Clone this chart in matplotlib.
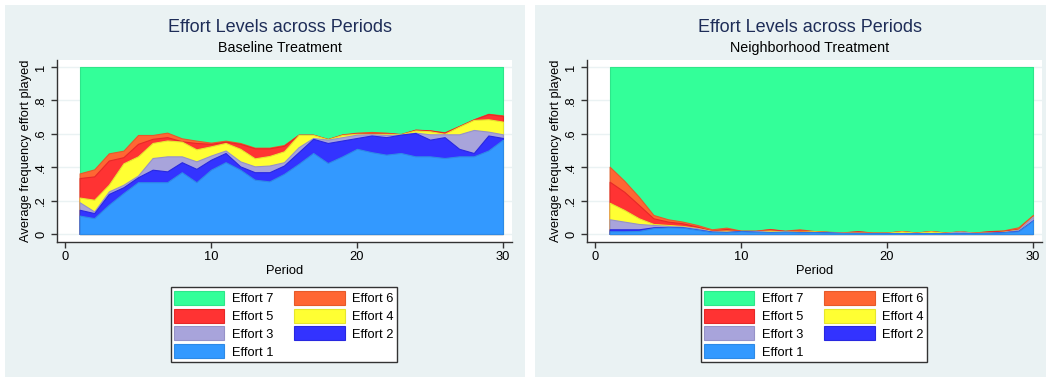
import matplotlib
matplotlib.use('Agg')
import matplotlib.pyplot as plt
import matplotlib.patches as mpatches
import numpy as np

plt.rcParams['font.family'] = ['Liberation Sans', 'DejaVu Sans']

periods = np.arange(1, 31)

# cumulative share of efforts 1..k (effort 7 fills up to 1)
base_cum1 = [0.11, 0.095, 0.175, 0.245, 0.31, 0.31, 0.31, 0.37, 0.31, 0.385, 0.43, 0.385, 0.325, 0.315, 0.36,
             0.42, 0.485, 0.425, 0.465, 0.51, 0.49, 0.475, 0.485, 0.465, 0.465, 0.455, 0.465, 0.465, 0.50, 0.565]
base_cum2 = [0.145, 0.125, 0.24, 0.28, 0.34, 0.385, 0.375, 0.43, 0.39, 0.445, 0.485, 0.405, 0.37, 0.37, 0.41,
             0.49, 0.57, 0.545, 0.56, 0.575, 0.59, 0.58, 0.595, 0.605, 0.565, 0.58, 0.51, 0.485, 0.59, 0.575]
base_cum3 = [0.19, 0.135, 0.255, 0.295, 0.35, 0.455, 0.465, 0.465, 0.435, 0.47, 0.50, 0.435, 0.405, 0.41, 0.43,
             0.52, 0.575, 0.565, 0.58, 0.595, 0.597, 0.593, 0.595, 0.607, 0.597, 0.597, 0.597, 0.623, 0.613, 0.597]
base_cum4 = [0.218, 0.205, 0.295, 0.423, 0.465, 0.545, 0.56, 0.553, 0.507, 0.525, 0.545, 0.51, 0.453, 0.467, 0.495,
             0.593, 0.593, 0.567, 0.593, 0.60, 0.60, 0.60, 0.597, 0.62, 0.615, 0.60, 0.643, 0.683, 0.687, 0.673]
base_cum5 = [0.335, 0.345, 0.44, 0.46, 0.54, 0.57, 0.58, 0.555, 0.545, 0.54, 0.553, 0.54, 0.513, 0.513, 0.528,
             0.594, 0.594, 0.568, 0.595, 0.603, 0.605, 0.604, 0.597, 0.624, 0.62, 0.607, 0.646, 0.686, 0.718, 0.707]
base_cum6 = [0.363, 0.387, 0.483, 0.499, 0.593, 0.593, 0.607, 0.573, 0.559, 0.547, 0.559, 0.545, 0.517, 0.517, 0.533,
             0.595, 0.595, 0.569, 0.597, 0.607, 0.611, 0.607, 0.599, 0.625, 0.621, 0.609, 0.647, 0.687, 0.72, 0.71]

neigh_cum1 = [0.016, 0.016, 0.018, 0.035, 0.04, 0.038, 0.025, 0.012, 0.01, 0.016, 0.012, 0.01, 0.012, 0.01, 0.01,
              0.008, 0.005, 0.005, 0.004, 0.004, 0.004, 0.004, 0.004, 0.004, 0.004, 0.004, 0.006, 0.01, 0.016, 0.08]
neigh_cum2 = [0.028, 0.028, 0.028, 0.04, 0.042, 0.04, 0.027, 0.014, 0.012, 0.017, 0.013, 0.011, 0.013, 0.011, 0.011,
              0.009, 0.006, 0.006, 0.005, 0.005, 0.005, 0.005, 0.005, 0.005, 0.005, 0.005, 0.007, 0.011, 0.018, 0.082]
neigh_cum3 = [0.088, 0.074, 0.06, 0.054, 0.048, 0.044, 0.034, 0.016, 0.014, 0.018, 0.018, 0.013, 0.015, 0.012, 0.012,
              0.01, 0.007, 0.007, 0.006, 0.006, 0.006, 0.006, 0.006, 0.006, 0.014, 0.006, 0.008, 0.013, 0.025, 0.104]
neigh_cum4 = [0.187, 0.144, 0.094, 0.06, 0.054, 0.048, 0.036, 0.018, 0.02, 0.018, 0.018, 0.02, 0.016, 0.014, 0.016,
              0.011, 0.008, 0.008, 0.007, 0.007, 0.016, 0.007, 0.016, 0.007, 0.014, 0.007, 0.009, 0.014, 0.026, 0.105]
neigh_cum5 = [0.313, 0.253, 0.174, 0.094, 0.074, 0.064, 0.044, 0.02, 0.03, 0.019, 0.019, 0.028, 0.018, 0.02, 0.017,
              0.012, 0.009, 0.016, 0.008, 0.008, 0.017, 0.008, 0.017, 0.008, 0.015, 0.008, 0.016, 0.018, 0.03, 0.108]
neigh_cum6 = [0.403, 0.319, 0.223, 0.114, 0.088, 0.074, 0.054, 0.028, 0.038, 0.02, 0.02, 0.03, 0.02, 0.028, 0.018,
              0.013, 0.01, 0.017, 0.009, 0.009, 0.018, 0.009, 0.018, 0.009, 0.016, 0.009, 0.017, 0.022, 0.04, 0.114]

labels = ['Effort 1', 'Effort 2', 'Effort 3', 'Effort 4', 'Effort 5', 'Effort 6', 'Effort 7']
fills = ['#3399FF', '#3333FF', '#A8A4DB', '#FFFF33', '#FF3333', '#FF6633', '#33FF99']
edges = ['#2E8AE6', '#2828E0', '#9692C8', '#E6E62E', '#E62828', '#E65A2A', '#2EE68A']

W, H = 1046, 380
BG = '#EAF2F3'

fig = plt.figure(figsize=(W / 100, H / 100), dpi=100)


def fx(x):
    return x / W


def fy(y):
    return 1 - y / H


def panel(x0, title, subtitle, cums):
    # background of the graph region
    fig.add_artist(mpatches.Rectangle((fx(x0 - 52), fy(377)), 520 / W, 372 / H,
                                      transform=fig.transFigure, facecolor=BG, edgecolor='none', zorder=0))
    ax = fig.add_axes([fx(x0), fy(242), 455 / W, 182 / H])
    tops = cums + [np.ones(len(periods))]
    # draw from effort 7 down to effort 1, each from zero
    for k in range(6, -1, -1):
        ax.fill_between(periods, 0, tops[k], facecolor=fills[k], edgecolor=edges[k], linewidth=0.8)
    ax.set_xlim(-0.55, 30.62)
    ax.set_ylim(-0.048, 1.042)
    ax.set_xticks([0, 10, 20, 30])
    ax.set_yticks([0, 0.2, 0.4, 0.6, 0.8, 1])
    ax.set_yticklabels(['0', '.2', '.4', '.6', '.8', '1'], rotation=90, va='center')
    ax.grid(axis='y', color=BG, linewidth=1.0)
    ax.set_axisbelow(True)
    for s in ['top', 'right']:
        ax.spines[s].set_visible(False)
    for s in ['left', 'bottom']:
        ax.spines[s].set_color('#333333')
        ax.spines[s].set_linewidth(1.0)
    ax.tick_params(direction='out', length=4.5, width=1.0, color='#333333', labelsize=9.3)
    ax.tick_params(axis='x', pad=2)
    ax.tick_params(axis='y', pad=2.5)
    ax.set_xlabel('Period', fontsize=9.3, labelpad=1.5)
    fig.text(fx(x0 - 31), fy(151), 'Average frequency effort played', rotation=90,
             ha='center', va='center', fontsize=9.3)
    fig.text(fx(x0 + 223), fy(27), title, ha='center', va='center', fontsize=13, color='#1E2D58')
    fig.text(fx(x0 + 223), fy(48), subtitle, ha='center', va='center', fontsize=10.3)

    handles = [mpatches.Patch(facecolor=fills[k], edgecolor=edges[k], linewidth=0.8) for k in range(7)]
    order = [6, 4, 2, 0, 5, 3, 1]
    fig.legend([handles[k] for k in order], [labels[k] for k in order],
               loc='upper center', bbox_to_anchor=(fx(x0 + 227), fy(281)), ncol=2,
               fontsize=9.3, handlelength=3.9, handleheight=1.3, handletextpad=0.6,
               columnspacing=1.6, labelspacing=0.27, borderpad=0.25,
               fancybox=False, framealpha=1, edgecolor='#333333', facecolor='white')
    return ax


panel(57, 'Effort Levels across Periods', 'Baseline Treatment',
      [base_cum1, base_cum2, base_cum3, base_cum4, base_cum5, base_cum6])
panel(587, 'Effort Levels across Periods', 'Neighborhood Treatment',
      [neigh_cum1, neigh_cum2, neigh_cum3, neigh_cum4, neigh_cum5, neigh_cum6])

fig.savefig('out.png', dpi=100)
